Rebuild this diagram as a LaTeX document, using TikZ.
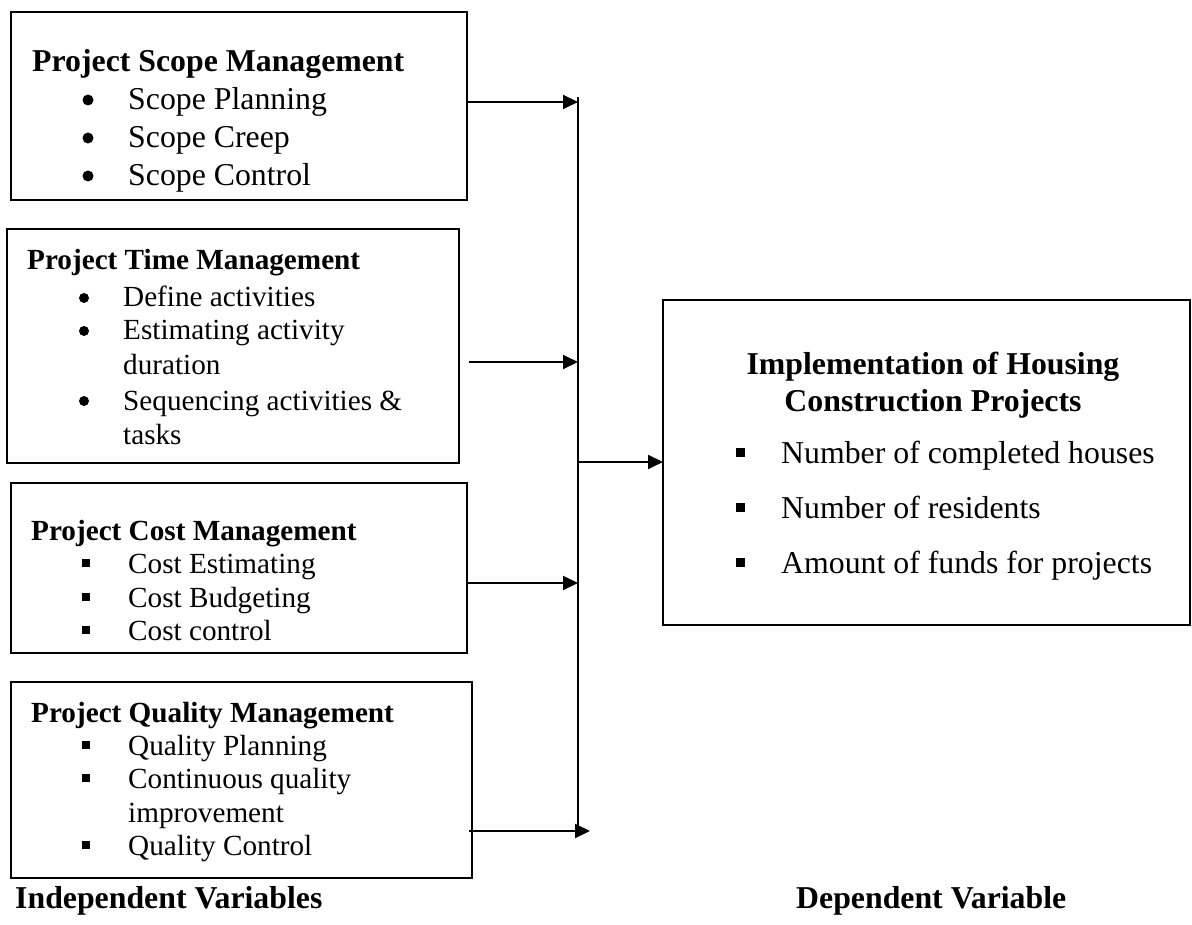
\documentclass[tikz,border=0pt]{standalone}
\usepackage{fontspec}
\setmainfont{Liberation Serif}
\usetikzlibrary{arrows.meta}
\tikzset{
  boxn/.style={draw, line width=2.4pt, inner sep=0pt, outer sep=0pt, anchor=north west},
  conn/.style={line width=2pt},
  arr/.style={conn, -{Triangle[length=15pt,width=14pt]}},
  tbig/.style={anchor=base west, inner sep=0pt, font=\fontsize{31.8pt}{36pt}\selectfont},
  tbigb/.style={tbig, font=\fontsize{31.8pt}{36pt}\selectfont\bfseries},
  tsm/.style={anchor=base west, inner sep=0pt, font=\fontsize{29.2pt}{33pt}\selectfont},
  tsmb/.style={tsm, font=\fontsize{29.2pt}{33pt}\selectfont\bfseries},
}
\newcommand\rdb[3]{\fill (#1,#2) circle (#3pt);}
\newcommand\sqb[3]{\fill (#1-#3,#2-#3) rectangle (#1+#3,#2+#3);}
\begin{document}
\begin{tikzpicture}[x=1pt,y=-1pt]
\useasboundingbox (0,0) rectangle (1192,925);
% boxes
\node[boxn, minimum width=456pt, minimum height=188pt] (b1) at (11,12) {};
\node[boxn, minimum width=452pt, minimum height=234pt] (b2) at (7,229) {};
\node[boxn, minimum width=456pt, minimum height=170pt] (b3) at (11,483) {};
\node[boxn, minimum width=461pt, minimum height=196pt] (b4) at (11,682) {};
\node[boxn, minimum width=527pt, minimum height=325pt] (dep) at (663,300) {};
% box 1
\node[tbigb] (t1) at (32,72) {Project Scope Management};
\node[tbig] (t1a) at (128,110) {Scope Planning};
\node[tbig] (t1b) at (128,148) {Scope Creep};
\node[tbig] (t1c) at (128,186) {Scope Control};
\rdb{88}{100}{5.5}
\rdb{88}{138}{5.5}
\rdb{88}{176}{5.5}
% box 2
\node[tsmb] (t2) at (27,270) {Project Time Management};
\node[tsm] (t2a) at (123,307) {Define activities};
\node[tsm] (t2b) at (123,340) {Estimating activity};
\node[tsm] (t2c) at (123,374) {duration};
\node[tsm] (t2d) at (123,410) {Sequencing activities \&};
\node[tsm] (t2e) at (123,444) {tasks};
\rdb{84}{298}{5}
\rdb{84}{331}{5}
\rdb{84}{401}{5}
% box 3
\node[tsmb] (t3) at (31,540) {Project Cost Management};
\node[tsm] (t3a) at (128,573) {Cost Estimating};
\node[tsm] (t3b) at (128,607) {Cost Budgeting};
\node[tsm] (t3c) at (128,640) {Cost control};
\sqb{86}{563}{4}
\sqb{86}{597}{4}
\sqb{86}{630}{4}
% box 4
\node[tsmb] (t4) at (31,722) {Project Quality Management};
\node[tsm] (t4a) at (128,755) {Quality Planning};
\node[tsm] (t4b) at (128,788) {Continuous quality};
\node[tsm] (t4c) at (128,822) {improvement};
\node[tsm] (t4d) at (128,855) {Quality Control};
\sqb{86}{745}{4}
\sqb{86}{778}{4}
\sqb{86}{845}{4}
% dependent box
\node[tbigb, anchor=base] (d1) at (933,374) {Implementation of Housing};
\node[tbigb, anchor=base] (d2) at (933,411) {Construction Projects};
\node[tbig] (da) at (781,463) {Number of completed houses};
\node[tbig] (db) at (781,518) {Number of residents};
\node[tbig] (dc) at (781,573) {Amount of funds for projects};
\sqb{740}{452}{4.5}
\sqb{740}{507}{4.5}
\sqb{740}{562}{4.5}
% bottom labels
\node[tbigb] (iv) at (15,908) {Independent Variables};
\node[tbigb] (dv) at (796,908) {Dependent Variable};
% connectors
\coordinate (j0) at (578,97);
\coordinate (j1) at (578,102);
\coordinate (j2) at (578,362);
\coordinate (j3) at (578,583);
\coordinate (j4) at (578,831);
\coordinate (t4e) at (590,831);
\coordinate (jd) at (578,462);
\draw[arr] (b1.east |- j1) -- (j1);
\draw[arr] ([xshift=10pt]b2.east |- j2) -- (j2);
\draw[arr] (b3.east |- j3) -- (j3);
\draw[arr] ([xshift=-3pt]b4.east |- j4) -- (t4e);
\draw[conn] (j0) -- (j4);
\draw[arr] (jd) -- (dep.west |- jd);
\end{tikzpicture}
\end{document}
